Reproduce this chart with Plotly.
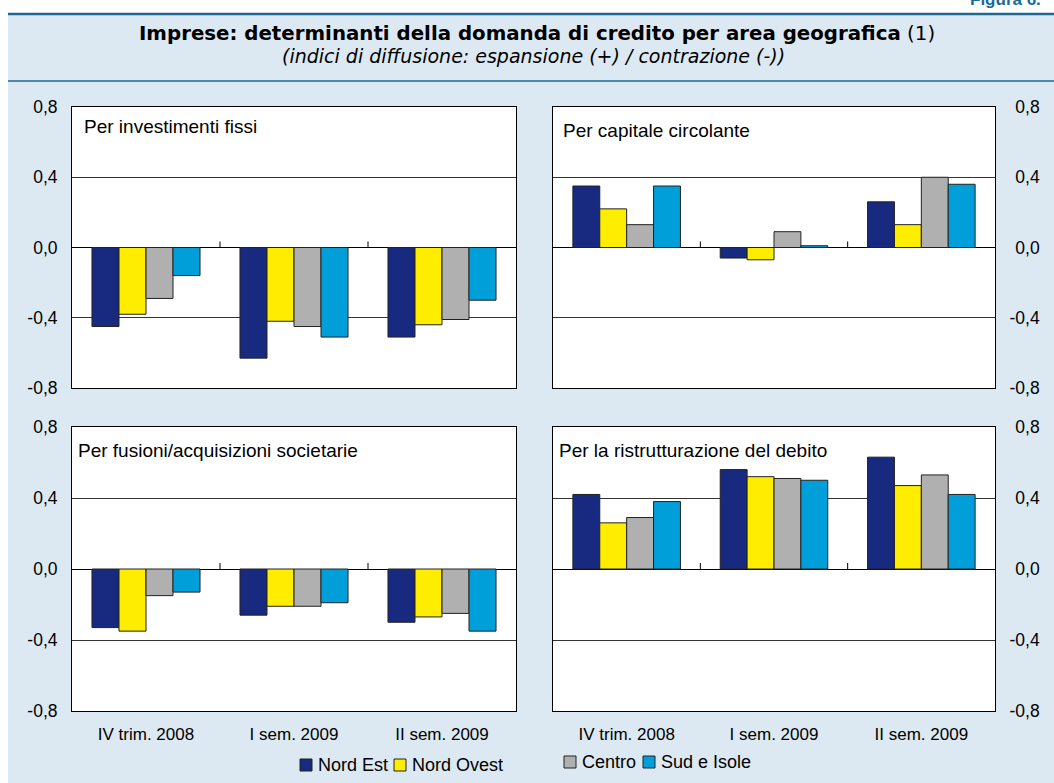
import plotly.graph_objects as go

W = 1054
H = 783

categories = ["IV trim. 2008", "I sem. 2009", "II sem. 2009"]
areas = ["Nord Est", "Nord Ovest", "Centro", "Sud e Isole"]
area_colors = ["#172a80", "#ffed00", "#b0b0b0", "#009fda"]

# one row per area: Nord Est, Nord Ovest, Centro, Sud e Isole
investimenti = [
    [-0.45, -0.63, -0.51],
    [-0.38, -0.42, -0.44],
    [-0.29, -0.45, -0.41],
    [-0.16, -0.51, -0.30],
]
capitale = [
    [0.35, -0.06, 0.26],
    [0.22, -0.07, 0.13],
    [0.13, 0.09, 0.40],
    [0.35, 0.01, 0.36],
]
fusioni = [
    [-0.33, -0.26, -0.30],
    [-0.35, -0.21, -0.27],
    [-0.15, -0.21, -0.25],
    [-0.13, -0.19, -0.35],
]
ristrutturazione = [
    [0.42, 0.56, 0.63],
    [0.26, 0.52, 0.47],
    [0.29, 0.51, 0.53],
    [0.38, 0.50, 0.42],
]

panel_titles = [
    "Per investimenti fissi",
    "Per capitale circolante",
    "Per fusioni/acquisizioni societarie",
    "Per la ristrutturazione del debito",
]
y_ticks = [-0.8, -0.4, 0.0, 0.4, 0.8]
y_ticktext = [("%.1f" % v).replace(".", ",") for v in y_ticks]
# right-hand labels are right-aligned in the original: pad the unsigned ones
y_ticktext_right = [t if t.startswith("-") else "\u2004" + t for t in y_ticktext]

FONT = "Liberation Sans, Arial, sans-serif"
TITLE_FONT = "DejaVu Sans, sans-serif"
BG = "#dde9f2"
LINE_BLUE = "#1f6891"


def px(x):
    return x / W


def py(y):
    return 1 - y / H


panels = [investimenti, capitale, fusioni, ristrutturazione]
x_domains = [[px(72), px(516)], [px(553), px(995)]] * 2
y_domains = [[py(388), py(107)]] * 2 + [[py(711), py(427)]] * 2
title_pos = [(0.022, 0.93), (0.018, 0.918), (0.01, 0.917), (0.008, 0.919)]

fig = go.Figure()

for p, data in enumerate(panels):
    xa = "x" if p == 0 else "x%d" % (p + 1)
    ya = "y" if p == 0 else "y%d" % (p + 1)
    for a, name in enumerate(areas):
        fig.add_trace(
            go.Bar(
                x=categories,
                y=data[a],
                name=name,
                marker=dict(color=area_colors[a], line=dict(color="#222222", width=1)),
                xaxis=xa,
                yaxis=ya,
                showlegend=False,
            )
        )

    right = p % 2 == 1
    bottom = p >= 2
    fig.layout["xaxis" if p == 0 else "xaxis%d" % (p + 1)] = dict(
        domain=x_domains[p],
        anchor=ya,
        type="category",
        automargin=False,
        showline=True,
        linecolor="#000000",
        linewidth=1,
        mirror=True,
        showgrid=False,
        ticks="outside",
        ticklen=8,
        tickcolor="rgba(0,0,0,0)",
        showticklabels=bottom,
        tickfont=dict(family=FONT, size=17, color="#000000"),
    )
    fig.layout["yaxis" if p == 0 else "yaxis%d" % (p + 1)] = dict(
        domain=y_domains[p],
        anchor=xa,
        side="right" if right else "left",
        automargin=False,
        range=[-0.8, 0.8],
        tickvals=y_ticks,
        ticktext=y_ticktext_right if right else y_ticktext,
        showline=True,
        linecolor="#000000",
        linewidth=1,
        mirror=True,
        showgrid=True,
        gridcolor="#333333",
        gridwidth=1,
        zeroline=True,
        zerolinecolor="#000000",
        zerolinewidth=1,
        ticks="outside",
        ticklen=10,
        tickcolor="rgba(0,0,0,0)",
        tickfont=dict(family=FONT, size=17.5, color="#000000"),
    )

    # small ticks between categories on the zero line
    for i in range(1, len(categories)):
        fig.add_shape(
            type="line",
            xref=xa,
            yref=ya,
            x0=i - 0.5,
            x1=i - 0.5,
            ysizemode="pixel",
            yanchor=0,
            y0=0,
            y1=6,
            line=dict(color="#000000", width=1),
        )

    tx, ty = title_pos[p]
    fig.add_annotation(
        xref=xa + " domain",
        yref=ya + " domain",
        x=tx,
        y=ty,
        xanchor="left",
        yanchor="middle",
        text=panel_titles[p],
        showarrow=False,
        font=dict(family=FONT, size=19, color="#000000"),
    )

# frame: white strips, blue rules
fig.add_shape(type="rect", xref="paper", yref="paper", x0=0, x1=1, y0=py(13), y1=1,
              fillcolor="#ffffff", line=dict(width=0), layer="below")
fig.add_shape(type="rect", xref="paper", yref="paper", x0=0, x1=px(8), y0=0, y1=1,
              fillcolor="#ffffff", line=dict(width=0), layer="below")
fig.add_shape(type="line", xref="paper", yref="paper", x0=px(8), x1=1, y0=py(14), y1=py(14),
              line=dict(color=LINE_BLUE, width=2.5))
fig.add_shape(type="line", xref="paper", yref="paper", x0=px(8), x1=1, y0=py(81), y1=py(81),
              line=dict(color=LINE_BLUE, width=1.5))

fig.add_annotation(
    xref="paper", yref="paper", x=px(968), y=py(11), xanchor="left", yanchor="bottom",
    text="<b>Figura 6.</b>", showarrow=False,
    font=dict(family=FONT, size=17, color="#1a6a9a"),
)
fig.add_annotation(
    xref="paper", yref="paper", x=px(537), y=py(33), xanchor="center", yanchor="middle",
    text="<b>Imprese: determinanti della domanda di credito per area geografica</b> (1)",
    showarrow=False, font=dict(family=TITLE_FONT, size=19.8, color="#000000"),
)
fig.add_annotation(
    xref="paper", yref="paper", x=px(533), y=py(56), xanchor="center", yanchor="middle",
    text="<i>(indici di diffusione: espansione (+) / contrazione (-))</i>",
    showarrow=False, font=dict(family=TITLE_FONT, size=19, color="#000000"),
)

# legend keys
legend_x = [300, 394, 564, 643]
for a, name in enumerate(areas):
    x0 = legend_x[a]
    yc = 765 if a < 2 else 762
    fig.add_shape(type="rect", xref="paper", yref="paper",
                  x0=px(x0), x1=px(x0 + 12), y0=py(yc + 6), y1=py(yc - 6),
                  fillcolor=area_colors[a], line=dict(color="#222222", width=1))
    fig.add_annotation(
        xref="paper", yref="paper", x=px(x0 + 16), y=py(yc), xanchor="left", yanchor="middle",
        text=name, showarrow=False, font=dict(family=FONT, size=18, color="#000000"),
    )

fig.update_layout(
    width=W,
    height=H,
    margin=dict(l=0, r=0, t=0, b=0, autoexpand=False),
    paper_bgcolor=BG,
    plot_bgcolor="#ffffff",
    barmode="group",
    bargap=0.27,
    bargroupgap=0,
    showlegend=False,
    font=dict(family=FONT, size=17, color="#000000"),
)

fig.write_html(
    "out.html",
    config={"displayModeBar": False},
    post_script="document.body.style.margin='0';document.body.style.overflow='hidden';",
)
